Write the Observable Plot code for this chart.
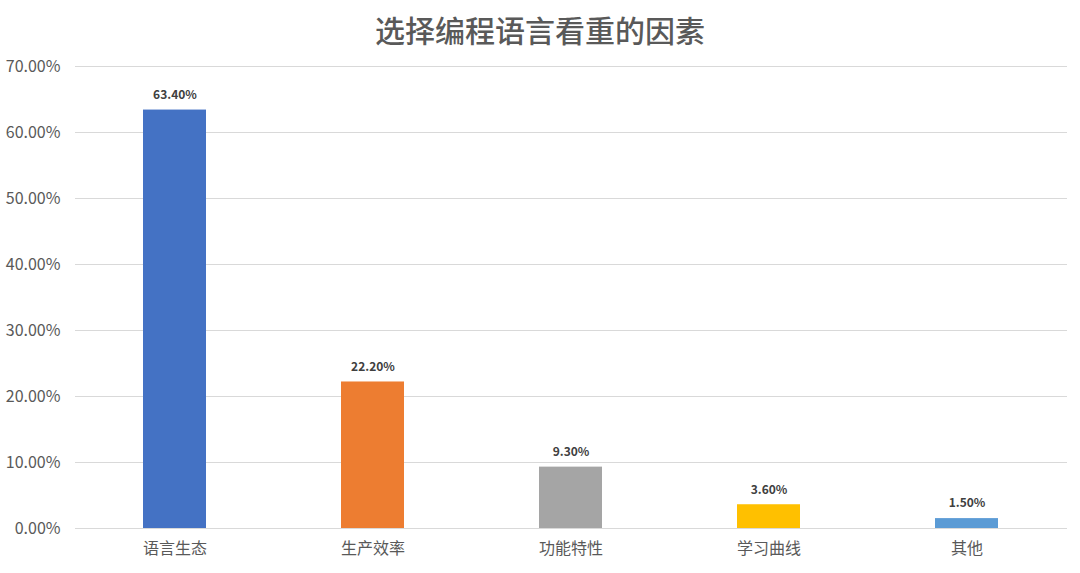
<!DOCTYPE html>
<html><head><meta charset="utf-8">
<script src="https://cdn.jsdelivr.net/npm/d3@7"></script>
<script src="https://cdn.jsdelivr.net/npm/@observablehq/plot@0.6"></script>
<style>
body{margin:0;background:#fff;font-family:"Noto Sans CJK SC",sans-serif;}
#title{height:44px;line-height:58px;text-align:center;font-size:30px;font-weight:500;color:#595959;}
</style></head>
<body>
<div id="title">选择编程语言看重的因素</div>
<div id="chart"></div>
<script>
const categories = ["语言生态","生产效率","功能特性","学习曲线","其他"];
const values = [0.634, 0.222, 0.093, 0.036, 0.015];
const colors = ["#4472C4","#ED7D31","#A5A5A5","#FFC000","#5B9BD5"];
const yTicks = [0,0.1,0.2,0.3,0.4,0.5,0.6,0.7];
const data = categories.map((c,i)=>({cat:c, value:values[i], color:colors[i]}));
const fmt = d3.format(".2%");
const chart = Plot.plot({
  width:1080, height:529,
  marginTop:22, marginBottom:45, marginLeft:75, marginRight:13,
  style:{fontFamily:"'Noto Sans CJK SC', sans-serif", background:"#fff", overflow:"visible"},
  x:{domain:categories, paddingInner:0.68, paddingOuter:0.34, label:null},
  y:{domain:[0,0.7], label:null},
  marks:[
    Plot.gridY(yTicks,{stroke:"#d9d9d9", strokeOpacity:1}),
    Plot.axisY(yTicks,{tickFormat:fmt, tickSize:0, tickPadding:15, fontSize:16, fill:"#595959", label:null}),
    Plot.axisX({tickSize:0, tickPadding:14, fontSize:16, fill:"#595959", label:null}),
    Plot.barY(data,{x:"cat", y:"value", fill:"color"}),
    Plot.text(data,{x:"cat", y:"value", text:d=>fmt(d.value), dy:-15, fontSize:12, fontWeight:"bold", fill:"#404040"})
  ]
});
document.getElementById("chart").append(chart);
</script>
</body></html>
